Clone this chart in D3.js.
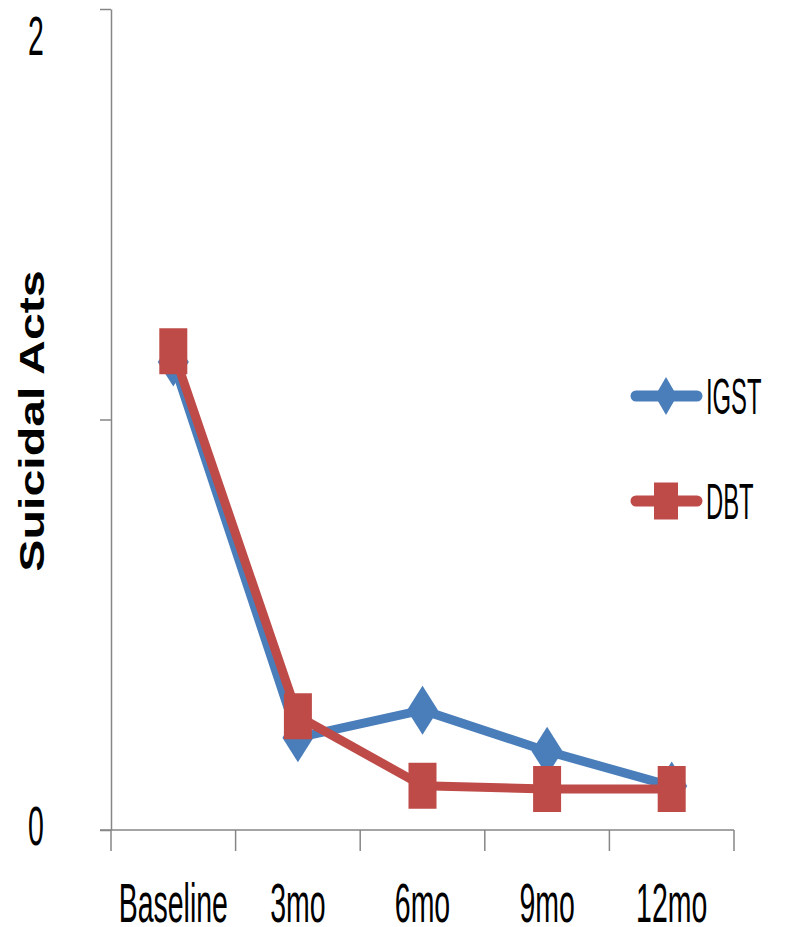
<!DOCTYPE html>
<html>
<head>
<meta charset="utf-8">
<script src="https://cdn.jsdelivr.net/npm/d3@7"></script>
<style>
  html, body { margin: 0; padding: 0; background: #fff; }
  svg { display: block; }
  text { font-family: "Liberation Sans", Arial, sans-serif; fill: #000; }
</style>
</head>
<body>
<svg id="chart" width="786" height="927"></svg>
<script>
// Mean suicidal acts per period, by treatment group
const categories = ["Baseline", "3mo", "6mo", "9mo", "12mo"];
const igst = [1.14, 0.225, 0.292, 0.192, 0.107];
const dbt = [1.166, 0.277, 0.108, 0.1, 0.1];
const yTickValues = [0, 1, 2];
const yTickLabels = ["0", "", "2"];
const seriesNames = ["IGST", "DBT"];
const seriesColors = ["#4a7ebb", "#be4b48"];

const svg = d3.select("#chart");

const plot = { left: 111, right: 734, top: 9, bottom: 830 };

const x = d3.scaleBand().domain(categories).range([plot.left, plot.right]).padding(0);
const y = d3.scaleLinear().domain([0, 2]).range([plot.bottom, plot.top]);
const cx = d => x(d) + x.bandwidth() / 2;

const axisColor = "#868686";

// Y axis: line plus outward ticks
const yAxis = svg.append("g").attr("transform", `translate(${plot.left},0)`)
  .call(d3.axisLeft(y).tickValues(yTickValues).tickSize(11).tickSizeOuter(0).tickFormat(""));
yAxis.select(".domain").attr("stroke", axisColor).attr("stroke-width", 1.5);
yAxis.selectAll(".tick line").attr("stroke", axisColor).attr("stroke-width", 1.5);

// X axis: line with ticks at category boundaries
const xAxisG = svg.append("g");
xAxisG.append("line")
  .attr("x1", plot.left - 11).attr("x2", plot.right)
  .attr("y1", y(0)).attr("y2", y(0))
  .attr("stroke", axisColor).attr("stroke-width", 1.5);
const boundaries = categories.map(c => x(c)).concat([x(categories[categories.length - 1]) + x.bandwidth()]);
xAxisG.selectAll("line.tick").data(boundaries).enter().append("line")
  .attr("class", "tick")
  .attr("x1", d => d).attr("x2", d => d)
  .attr("y1", y(0)).attr("y2", y(0) + 21)
  .attr("stroke", axisColor).attr("stroke-width", 1.5);

// Tall, narrow label text
const labelSX = 0.75, labelSY = 1.45, labelSize = 38;

// Category labels
svg.selectAll("text.xlab").data(categories).enter().append("text")
  .attr("class", "xlab")
  .attr("transform", d => `translate(${cx(d)},922) scale(${labelSX},${labelSY})`)
  .attr("text-anchor", "middle")
  .attr("font-size", labelSize)
  .text(d => d);

// Y tick labels (0 and 2)
const yLabelY = { 0: 845, 2: 55 };
svg.selectAll("text.ylab").data(yTickValues.filter((v, i) => yTickLabels[i] !== "")).enter().append("text")
  .attr("class", "ylab")
  .attr("transform", d => `translate(36,${yLabelY[d]}) scale(${labelSX},${labelSY})`)
  .attr("text-anchor", "middle")
  .attr("font-size", labelSize)
  .text(d => yTickLabels[yTickValues.indexOf(d)]);

// Y axis title
svg.append("text")
  .attr("transform", "translate(44,421) rotate(-90) scale(1.38,1)")
  .attr("text-anchor", "middle")
  .attr("font-size", 35)
  .attr("font-weight", "bold")
  .text("Suicidal Acts");

// Marker shapes
function diamondPath(w, h) {
  return `M0,${-h / 2}L${w / 2},0L0,${h / 2}L${-w / 2},0Z`;
}
function squarePath(w, h) {
  return `M${-w / 2},${-h / 2}H${w / 2}V${h / 2}H${-w / 2}Z`;
}

const line = d3.line().x((d, i) => cx(categories[i])).y(d => y(d));

// IGST series
svg.append("path").datum(igst)
  .attr("d", line).attr("fill", "none")
  .attr("stroke", seriesColors[0]).attr("stroke-width", 9)
  .attr("stroke-linejoin", "round").attr("stroke-linecap", "round");
svg.selectAll("path.igst").data(igst).enter().append("path")
  .attr("class", "igst")
  .attr("transform", (d, i) => `translate(${cx(categories[i])},${y(d)})`)
  .attr("d", diamondPath(31, 49))
  .attr("fill", seriesColors[0]);

// DBT series
svg.append("path").datum(dbt)
  .attr("d", line).attr("fill", "none")
  .attr("stroke", seriesColors[1]).attr("stroke-width", 9)
  .attr("stroke-linejoin", "round").attr("stroke-linecap", "round");
svg.selectAll("path.dbt").data(dbt).enter().append("path")
  .attr("class", "dbt")
  .attr("transform", (d, i) => `translate(${cx(categories[i])},${y(d)})`)
  .attr("d", squarePath(28, 46))
  .attr("fill", seriesColors[1]);

// Legend
const legendY = [396, 501];
const legend = svg.selectAll("g.legend").data(seriesNames).enter().append("g")
  .attr("class", "legend")
  .attr("transform", (d, i) => `translate(0,${legendY[i]})`);
legend.append("line")
  .attr("x1", 636).attr("x2", 697).attr("y1", 0).attr("y2", 0)
  .attr("stroke", (d, i) => seriesColors[i]).attr("stroke-width", 11)
  .attr("stroke-linecap", "round");
legend.append("path")
  .attr("transform", "translate(666,0)")
  .attr("d", (d, i) => i === 0 ? diamondPath(22, 38) : squarePath(24, 37))
  .attr("fill", (d, i) => seriesColors[i]);
legend.append("text")
  .attr("transform", "translate(706,18) scale(0.7,1.45)")
  .attr("font-size", 34)
  .text(d => d);
</script>
</body>
</html>
